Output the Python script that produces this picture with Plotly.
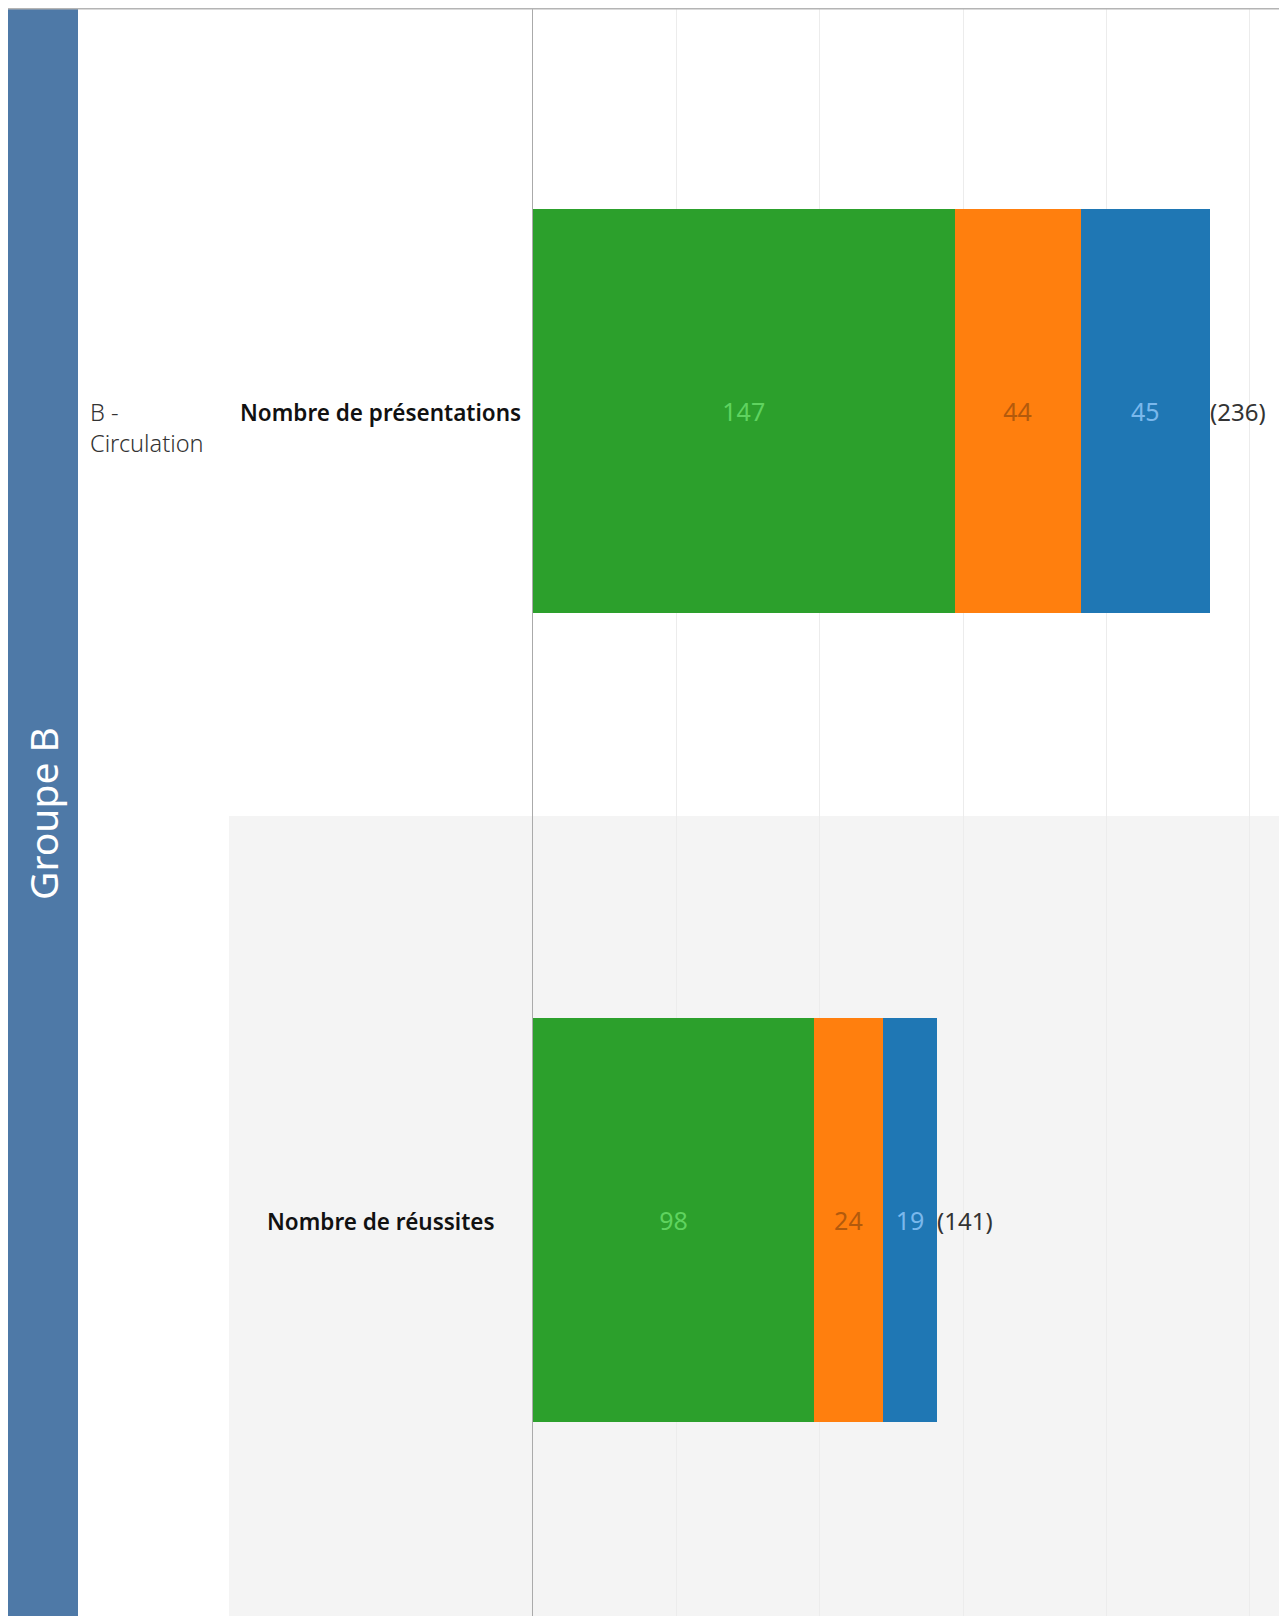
import plotly.graph_objects as go

# ---- data ----
group_label = "Groupe B"
sub_label = "B -<br>Circulation"
measures = ["Nombre de présentations", "Nombre de réussites"]
series_names = ["Série 1", "Série 2", "Série 3"]
series_values = {
    "Série 1": [147, 98],
    "Série 2": [44, 24],
    "Série 3": [45, 19],
}
totals = [236, 141]
grid_ticks = [50, 100, 150, 200, 250]

bar_colors = ["#2ca02c", "#ff7f0e", "#1f77b4"]
label_colors = ["#5fd35f", "#b35a0c", "#7ab8ec"]

# page has an 8px body margin; figure fills the rest of the window
W, H = 1279, 1608
FONT = "Noto Sans"

fig = go.Figure()
for name, col, lcol in zip(series_names, bar_colors, label_colors):
    vals = series_values[name]
    fig.add_trace(go.Bar(
        x=vals, y=measures, orientation="h", name=name,
        marker=dict(color=col, line=dict(width=0)),
        width=0.5,
        text=[str(v) for v in vals],
        textposition="inside", insidetextanchor="middle",
        textangle=0, constraintext="none",
        textfont=dict(color=lcol, size=25, family=FONT),
        hoverinfo="skip",
    ))

x0 = 525 / W
top_y = 1 - 0.75 / H
mid_y = 1 - 808 / H

shapes = [
    # gray band for second row
    dict(type="rect", xref="paper", yref="paper", x0=221 / W, x1=1, y0=0, y1=mid_y,
         fillcolor="#f4f4f4", line=dict(width=0), layer="below"),
    # blue group band
    dict(type="rect", xref="paper", yref="paper", x0=0, x1=70 / W, y0=0, y1=top_y,
         fillcolor="#4e79a7", line=dict(width=0), layer="above"),
    # top border
    dict(type="line", xref="paper", yref="paper", x0=0, x1=1, y0=top_y, y1=top_y,
         line=dict(color="#b4b4b4", width=1.5), layer="above"),
]

annotations = [
    dict(text=group_label, xref="paper", yref="paper", x=34 / W, y=1 - 806 / H,
         showarrow=False, textangle=-90, xanchor="center", yanchor="middle",
         font=dict(color="white", size=39, family=FONT)),
    dict(text=sub_label, xref="paper", yref="y", x=80 / W, y=measures[0],
         showarrow=False, xanchor="left", yanchor="middle", align="left", yshift=-17,
         font=dict(color="#333333", size=23.5, family=FONT, weight=300)),
]
for m in measures:
    annotations.append(dict(
        text=m, xref="paper", yref="y", x=373 / W, y=m, showarrow=False,
        xanchor="center", yanchor="middle", yshift=-2,
        font=dict(color="#111111", size=22.5, family=FONT, weight=600)))
for m, t in zip(measures, totals):
    annotations.append(dict(
        text="(%d)" % t, xref="x", yref="y", x=t, y=m, showarrow=False,
        xanchor="left", yanchor="middle", xshift=-2, yshift=-1,
        font=dict(color="#333333", size=24, family=FONT)))

fig.update_layout(
    width=W, height=H,
    margin=dict(l=0, r=0, t=0, b=0),
    barmode="stack",
    showlegend=False,
    paper_bgcolor="white",
    plot_bgcolor="rgba(0,0,0,0)",
    shapes=shapes,
    annotations=annotations,
    xaxis=dict(domain=[x0, 1], range=[0, 262.96], tickvals=grid_ticks,
               showticklabels=False, showgrid=True, gridcolor="#ececec", gridwidth=1,
               zeroline=False, showline=False, fixedrange=True),
    yaxis=dict(domain=[0, 1], type="category", categoryorder="array",
               categoryarray=measures, range=[1.4895, -0.4981],
               showticklabels=False, showgrid=False, zeroline=False,
               showline=True, linecolor="#aaaaaa", linewidth=1.2, fixedrange=True),
    uniformtext=dict(mode=False),
)

fig.write_html("out.html")
